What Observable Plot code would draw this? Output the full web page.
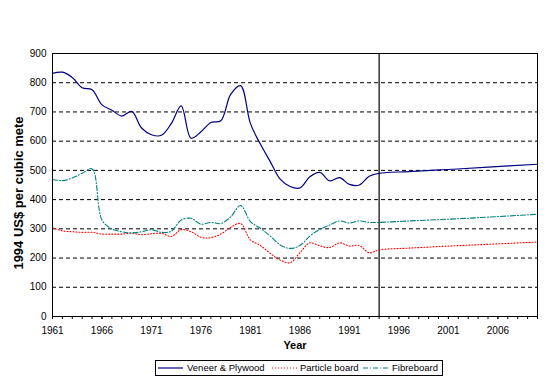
<!DOCTYPE html>
<html><head><meta charset="utf-8">
<script src="https://cdn.jsdelivr.net/npm/d3@7"></script>
<script src="https://cdn.jsdelivr.net/npm/@observablehq/plot@0.6"></script>
<style>
body{margin:0;background:#fff;font-family:Arial,"Liberation Sans",sans-serif;}
#chart{position:relative;width:560px;height:383px;}
</style>
</head><body><div id="chart"></div>
<script>
const histYears = [1961,1962,1963,1964,1965,1966,1967,1968,1969,1970,1971,1972,1973,1974,1975,1976,1977,1978,1979,1980,1981,1982,1983,1984,1985,1986,1987,1988,1989,1990,1991,1992,1993,1994];
const veneerHist   = [832,836,818,783,776,724,706,686,702,645,622,620,660,721,610,632,664,670,760,790,660,590,530,470,445,440,478,493,464,475,452,450,480,490];
const particleHist = [304,293,290,288,288,282,282,282,285,280,283,285,274,297,290,271,270,282,305,318,262,243,216,193,184,218,252,242,236,252,241,243,218,228];
const fibreHist    = [469,465,474,490,505,330,300,290,286,290,297,288,292,330,336,316,322,318,341,380,325,302,275,245,233,243,275,298,313,327,320,327,322,322];

const projYears    = [1997,2001,2005,2010];
const veneerProj   = [496,503,511,521];
const particleProj = [234,241,247,255];
const fibreProj    = [327,333,340,350];

const seriesNames = ["Veneer & Plywood","Particle board","Fibreboard"];
const seriesColors = ["#000080","#ff0000","#008080"];
const seriesDash = [null,"1,2","5,2,1,2"];
const seriesWidth = [1.2, 1.1, 1.1];

const yTicks = [0,100,200,300,400,500,600,700,800,900];
const gridValues = [100,200,300,400,500,600,700,800];
const xLabelYears = [1961,1966,1971,1976,1981,1986,1991,1996,2001,2006];
const xTickYears = d3.range(1961, 2011);
const forecastStart = 1994;
const yLabel = "1994 US$ per cubic mete";
const xLabel = "Year";

const allYears = histYears.concat(projYears);
const values = [veneerHist.concat(veneerProj), particleHist.concat(particleProj), fibreHist.concat(fibreProj)];

const lineMarks = seriesNames.map((name, i) =>
  Plot.line(allYears.map((y, j) => ({year: y, value: values[i][j]})), {
    x: "year", y: "value", stroke: seriesColors[i], strokeWidth: seriesWidth[i],
    strokeDasharray: seriesDash[i], curve: "catmull-rom"
  })
);

const plot = Plot.plot({
  width: 560, height: 383,
  marginLeft: 52, marginRight: 23, marginTop: 53, marginBottom: 67,
  style: {fontFamily: "Arial, 'Liberation Sans', sans-serif", fontSize: "10px", background: "#fff", color: "#000"},
  x: {domain: [1961, 2010]},
  y: {domain: [0, 900]},
  marks: [
    Plot.ruleY(gridValues, {stroke: "#000", strokeDasharray: "4,3", strokeWidth: 1}),
    Plot.ruleX([forecastStart], {y1: 0, y2: 900, stroke: "#000", strokeWidth: 1.2}),
    ...lineMarks,
    Plot.frame({stroke: "#000", strokeWidth: 1}),
    Plot.axisY({ticks: yTicks, tickSize: 0, tickPadding: 6, tickFormat: d => String(d), label: null}),
    Plot.axisX({ticks: xTickYears, tickSize: 3, tickFormat: () => "", label: null}),
    Plot.axisX({ticks: xLabelYears, tickSize: 3, tickPadding: 7, tickFormat: d => String(d), label: null}),
    Plot.text([xLabel], {frameAnchor: "bottom", dy: 32, fontWeight: "bold", fontSize: 11}),
    Plot.text([yLabel], {frameAnchor: "left", textAnchor: "middle", lineAnchor: "middle", rotate: -90, dx: -34, dy: 8, fontWeight: "bold", fontSize: 13, letterSpacing: "0.7px"})
  ]
});
document.getElementById("chart").appendChild(plot);

// legend
const svg = d3.select(plot);
const lg = svg.append("g").attr("font-size", 9.5).attr("text-anchor", "start")
  .attr("font-family", "Arial, 'Liberation Sans', sans-serif");
lg.append("rect").attr("x", 155.5).attr("y", 360.5).attr("width", 287).attr("height", 15)
  .attr("fill", "#fff").attr("stroke", "#000").attr("stroke-width", 1);
const itemX = [158, 272, 363];
const textX = [187, 300, 392];
seriesNames.forEach((name, i) => {
  lg.append("line").attr("x1", itemX[i]).attr("x2", itemX[i] + 25).attr("y1", 368).attr("y2", 368)
    .attr("stroke", seriesColors[i]).attr("stroke-width", seriesWidth[i])
    .attr("stroke-dasharray", seriesDash[i]);
  lg.append("text").attr("x", textX[i]).attr("y", 368).attr("dy", "0.35em").attr("fill", "#000").text(name);
});
</script>
</body></html>
